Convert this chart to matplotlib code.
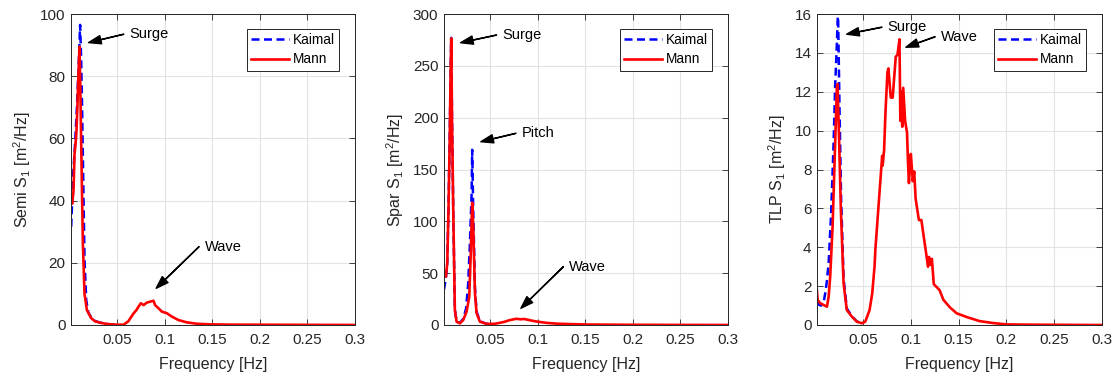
import numpy as np
import matplotlib
matplotlib.use('Agg')
import matplotlib.pyplot as plt
from matplotlib.ticker import FormatStrFormatter

plt.rcParams['font.family'] = ['Liberation Sans', 'DejaVu Sans']
plt.rcParams['mathtext.default'] = 'regular'

# Semi-submersible
semi_f_mann = [0.002, 0.003, 0.0044, 0.0055, 0.0065, 0.0075, 0.0085, 0.0095, 0.0107, 0.0115,
               0.0125, 0.0135, 0.0143, 0.016, 0.0185, 0.023, 0.027, 0.032, 0.04, 0.05,
               0.057, 0.062, 0.0674, 0.0705, 0.0727, 0.0751, 0.078, 0.0814, 0.0849, 0.0884,
               0.0901, 0.0936, 0.0972, 0.1024, 0.1077, 0.1146, 0.1234, 0.134, 0.148, 0.17,
               0.2, 0.25, 0.3]
semi_mann = [41, 39, 43, 55, 58, 62, 70, 80, 89.5, 78,
             58.5, 40, 26, 10, 4.8, 2.2, 1.2, 0.75, 0.3, 0.1,
             0.1, 1.2, 3.7, 4.8, 5.9, 7.0, 6.4, 7.2, 7.5, 7.8,
             6.4, 5.4, 4.3, 3.8, 2.7, 1.6, 0.85, 0.4, 0.2, 0.12,
             0.1, 0.05, 0.02]
semi_f_kaimal = [0.002, 0.004, 0.006, 0.008, 0.010, 0.0114, 0.0125, 0.0135, 0.015, 0.016,
                 0.0178, 0.02, 0.023, 0.027, 0.032, 0.04, 0.05]
semi_kaimal = [31.6, 48, 58, 70, 85, 96.5, 85, 69, 40, 21,
               8, 4, 2.4, 1.3, 0.8, 0.3, 0.1]

# Spar
spar_f_mann = [0.0017, 0.0038, 0.0052, 0.0065, 0.0078, 0.0088, 0.0094, 0.0102, 0.0115, 0.0132,
               0.015, 0.0185, 0.022, 0.0255, 0.0283, 0.03, 0.0314, 0.0325, 0.0343, 0.036,
               0.0395, 0.046, 0.05, 0.055, 0.06, 0.065, 0.07, 0.075, 0.078, 0.082,
               0.086, 0.09, 0.095, 0.1, 0.11, 0.12, 0.13, 0.15, 0.2, 0.25, 0.3]
spar_mann = [48, 46.6, 59.5, 110, 180, 245, 276.5, 200, 110.9, 14.5,
             3.2, 1.6, 4.8, 12.9, 27, 72, 118, 94.8, 31, 11.5,
             3.2, 1.2, 1.0, 1.2, 2.0, 3.0, 4.5, 5.5, 6.0, 5.5,
             5.8, 5.0, 4.0, 3.2, 2.0, 1.3, 1.0, 0.5, 0.2, 0.1, 0.05]
spar_f_kaimal = [0.0017, 0.0038, 0.0052, 0.0065, 0.0078, 0.0088, 0.0094, 0.0102, 0.0115, 0.0132,
                 0.015, 0.0185, 0.022, 0.025, 0.0272, 0.029, 0.0308, 0.0314, 0.0325, 0.0343,
                 0.036, 0.0395, 0.046, 0.05]
spar_kaimal = [34, 45, 60, 112, 182, 247, 277, 202, 112, 15,
               3.4, 2.0, 6.0, 16, 40, 79, 127, 169, 111, 36,
               13, 3.6, 1.3, 1.0]

# TLP
tlp_f_mann = [0.0017, 0.0025, 0.0052, 0.0087, 0.0122, 0.014, 0.0156, 0.0181, 0.0208, 0.0226,
              0.0233, 0.025, 0.0268, 0.0296, 0.033, 0.0383, 0.0435, 0.0488, 0.0523, 0.0568,
              0.0596, 0.062, 0.0629, 0.066, 0.070, 0.0705, 0.072, 0.0735, 0.0755, 0.0765,
              0.079, 0.081, 0.0842, 0.086, 0.0881, 0.089, 0.0898, 0.091, 0.092, 0.094,
              0.096, 0.097, 0.098, 0.0995, 0.100, 0.102, 0.1035, 0.105, 0.1084, 0.111,
              0.1145, 0.118, 0.119, 0.1205, 0.122, 0.124, 0.128, 0.13, 0.134, 0.141,
              0.148, 0.159, 0.172, 0.186, 0.2, 0.22, 0.25, 0.3]
tlp_mann = [1.8, 1.29, 1.12, 1.03, 0.94, 1.46, 2.5, 5.06, 9.35, 12.26,
            12.4, 9.4, 5.9, 2.15, 0.77, 0.43, 0.17, 0.09, 0.17, 0.77,
            1.63, 3.0, 3.9, 6.0, 8.7, 8.2, 9.0, 11.0, 13.0, 13.2,
            11.7, 11.7, 13.8, 13.9, 14.7, 10.5, 12.0, 10.2, 12.2, 10.5,
            9.9, 8.4, 7.3, 8.6, 8.8, 7.4, 7.9, 6.5, 5.4, 5.4,
            4.2, 3.0, 3.5, 3.1, 3.4, 2.1, 1.9, 1.8, 1.3, 0.9,
            0.6, 0.4, 0.2, 0.1, 0.03, 0.02, 0.01, 0.0]
tlp_f_kaimal = [0.0017, 0.0035, 0.006, 0.0085, 0.0104, 0.012, 0.014, 0.0167, 0.0192, 0.0208,
                0.0226, 0.0238, 0.0254, 0.027, 0.0296, 0.033, 0.0383, 0.0435, 0.05]
tlp_kaimal = [1.2, 1.05, 1.0, 1.1, 1.63, 2.2, 3.2, 5.9, 9.4, 12.3,
              14.5, 16.2, 11.0, 6.6, 2.4, 0.85, 0.45, 0.18, 0.08]

panels = [
    ('Semi', semi_f_kaimal, semi_kaimal, semi_f_mann, semi_mann, 100, 20),
    ('Spar', spar_f_kaimal, spar_kaimal, spar_f_mann, spar_mann, 300, 50),
    ('TLP', tlp_f_kaimal, tlp_kaimal, tlp_f_mann, tlp_mann, 16, 2),
]

# (text, arrow head xy, text xy) in data coords
notes = [
    [('Surge', (0.0202, 90.8), (0.0632, 93.5)),
     ('Wave', (0.0912, 11.8), (0.1423, 25.2))],
    [('Surge', (0.0192, 272.3), (0.0630, 279.7)),
     ('Pitch', (0.0405, 176.8), (0.0833, 184.9)),
     ('Wave', (0.0825, 16.1), (0.1332, 56.3))],
    [('Surge', (0.0328, 14.96), (0.0757, 15.32)),
     ('Wave', (0.0948, 14.29), (0.1314, 14.83))],
]

W, H = 1114, 374
lefts = [71, 444, 817]
widths = [284, 284, 285]
top, bottom = 14, 325
axc = '#262626'

fig = plt.figure(figsize=(W / 100, H / 100), dpi=100)

for i, (name, fk, sk, fm, sm, ymax, ystep) in enumerate(panels):
    ax = fig.add_axes([lefts[i] / W, 1 - bottom / H, widths[i] / W, (bottom - top) / H])
    ax.plot(fk, sk, '--', color='#0000ff', lw=1.8, dashes=(3.2, 1.8), label='Kaimal')
    ax.plot(fm, sm, '-', color='#ff0000', lw=1.9, label='Mann')
    ax.set_xlim(0.0018, 0.3)
    ax.set_ylim(0, ymax)
    ax.set_xticks([0.05, 0.1, 0.15, 0.2, 0.25, 0.3])
    ax.xaxis.set_major_formatter(FormatStrFormatter('%g'))
    ax.set_yticks(np.arange(0, ymax + ystep / 2, ystep))
    ax.grid(True, color='#e3e3e3', lw=0.8)
    ax.set_axisbelow(True)
    ax.tick_params(direction='in', top=True, right=True, length=4, width=0.6,
                   colors=axc, labelsize=11)
    ax.tick_params(axis='x', pad=6)
    ax.tick_params(axis='y', pad=4)
    for s in ax.spines.values():
        s.set_color(axc)
        s.set_linewidth(0.7)
    ax.set_xlabel('Frequency [Hz]', fontsize=11.5, color=axc, labelpad=7)
    ax.set_ylabel(name + ' S$_1$ [m$^2$/Hz]', fontsize=11.5, color=axc, labelpad=5)

    for txt, head, tpos in notes[i]:
        ax.annotate('', xy=head, xytext=(tpos[0] - 0.006, tpos[1]),
                    arrowprops=dict(facecolor='k', edgecolor='k', width=0.2,
                                    headwidth=6, headlength=9, shrink=0))
        ax.text(tpos[0], tpos[1], txt, fontsize=10.5, va='center', ha='left')

    leg = ax.legend(loc='upper right', bbox_to_anchor=(0.944, 0.952), fontsize=9.8,
                    fancybox=False, framealpha=1, edgecolor=axc, borderaxespad=0,
                    handlelength=2.8, handletextpad=0.3, borderpad=0.3, labelspacing=0.4)
    leg.get_frame().set_linewidth(0.7)

plt.savefig('out.png', dpi=100)
